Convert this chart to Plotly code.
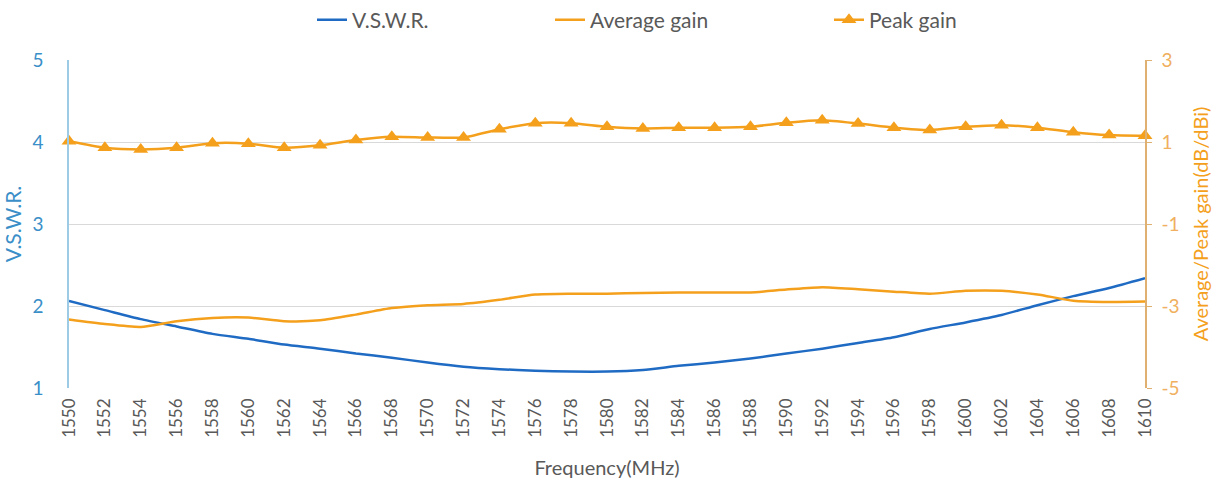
import plotly.graph_objects as go

freq = list(range(1550, 1612, 2))
vswr = [2.06, 1.95, 1.84, 1.75, 1.66, 1.60, 1.53, 1.48, 1.42, 1.37, 1.31, 1.26, 1.23, 1.21, 1.20,
        1.20, 1.22, 1.27, 1.31, 1.36, 1.42, 1.48, 1.55, 1.62, 1.72, 1.80, 1.89, 2.01, 2.12, 2.22, 2.34]
avg_gain = [-3.33, -3.44, -3.51, -3.37, -3.29, -3.28, -3.37, -3.35, -3.21, -3.05, -2.98, -2.95, -2.85,
            -2.72, -2.70, -2.70, -2.68, -2.67, -2.67, -2.67, -2.60, -2.54, -2.59, -2.65, -2.70, -2.63,
            -2.63, -2.72, -2.87, -2.90, -2.89]
peak_gain = [1.02, 0.86, 0.82, 0.86, 0.97, 0.96, 0.86, 0.92, 1.05, 1.13, 1.11, 1.11, 1.31, 1.46, 1.46,
             1.37, 1.33, 1.35, 1.35, 1.37, 1.47, 1.53, 1.45, 1.35, 1.29, 1.37, 1.41, 1.35, 1.24, 1.17, 1.15]
x_ticks = [str(f) for f in freq]
y2_ticks = [-5, -3, -1, 1, 3]
y2_labels = ["-5", "-3", "-1", "1", "3"]

BLUE = "#1F6BC4"
ORANGE = "#F4A01C"
GRAY = "#595959"
FONT = "Lato, Open Sans, sans-serif"

fig = go.Figure()
fig.add_trace(go.Scatter(x=freq, y=vswr, name="V.S.W.R.", mode="lines", legend="legend",
                         line=dict(color=BLUE, width=2.5, shape="spline", smoothing=0.6),
                         cliponaxis=False))
fig.add_trace(go.Scatter(x=freq, y=avg_gain, name="Average gain", mode="lines", yaxis="y2",
                         legend="legend2",
                         line=dict(color=ORANGE, width=2.5, shape="spline", smoothing=0.6),
                         cliponaxis=False))
fig.add_trace(go.Scatter(x=freq, y=peak_gain, name="Peak gain", mode="lines+markers", yaxis="y2",
                         legend="legend3",
                         line=dict(color=ORANGE, width=2.5, shape="spline", smoothing=0.6),
                         marker=dict(symbol="triangle-up", size=13, color=ORANGE),
                         cliponaxis=False))

def leg(xpx):
    return dict(orientation="h", xref="container", yref="container", x=xpx / 1225,
                xanchor="left", y=1 - 20 / 483, yanchor="middle",
                font=dict(size=21, color=GRAY), bgcolor="rgba(0,0,0,0)")

fig.update_layout(
    width=1225, height=483,
    margin=dict(l=69, r=80, t=60, b=95, autoexpand=False),
    paper_bgcolor="white", plot_bgcolor="white",
    font=dict(family=FONT, color=GRAY, size=14),
    showlegend=True,
    legend=leg(312), legend2=leg(550), legend3=leg(829),
    xaxis=dict(range=[1550, 1610], tickmode="array", tickvals=freq, ticktext=x_ticks,
               tickangle=-90, showgrid=False, zeroline=False, showline=False, automargin=False,
               tickfont=dict(size=17, color=GRAY), ticklabelstandoff=6,
               title=dict(text="Frequency(MHz)", font=dict(size=20, color=GRAY), standoff=24)),
    yaxis=dict(range=[1, 5], dtick=1, showgrid=True, gridcolor="#D9D9D9", gridwidth=1,
               zeroline=False, showline=True, linecolor="#9DCBE6", linewidth=1.5, automargin=False,
               tickfont=dict(size=19, color="#3A8FC8"), ticks="", ticklabelstandoff=20,
               title=dict(text="V.S.W.R.", font=dict(size=21, color="#3A8FC8"), standoff=14)),
    yaxis2=dict(range=[-5, 3], tickmode="array", tickvals=y2_ticks, ticktext=y2_labels,
                overlaying="y", side="right", showgrid=False, automargin=False,
                zeroline=False, showline=True, linecolor="#E0B070", linewidth=1.5,
                ticks="outside", ticklen=5, tickcolor="#E0B070",
                tickfont=dict(size=19, color="#F0B060"), ticklabelstandoff=6,
                title=dict(text="Average/Peak gain(dB/dBi)", font=dict(size=20, color=ORANGE))),
)

fig.write_html("out.html", config={"displayModeBar": False},
               post_script="document.body.style.margin='0';")
